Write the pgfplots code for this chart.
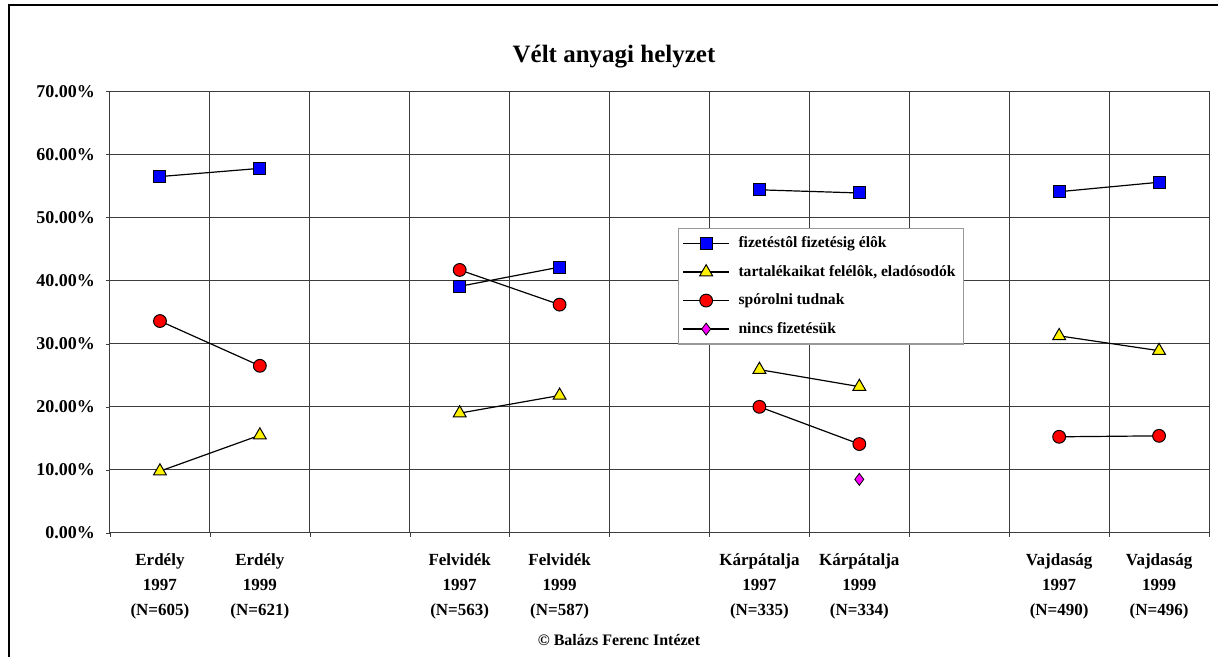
\documentclass[border=0pt]{standalone}
\usepackage{pgfplots}
\pgfplotsset{compat=1.18}
\usepackage{fontspec}
\setmainfont{Liberation Serif}
\definecolor{gridc}{RGB}{60,60,60}
\definecolor{mag}{RGB}{255,0,255}
\begin{document}
\begin{tikzpicture}[x=1pt,y=1pt]
\path[use as bounding box] (-55,-62) rectangle (554,266.5);
\draw[line width=1.1pt] (-50.5,-62) -- (-50.5,264) -- (554,264);
\begin{axis}[
  at={(0,0)}, anchor=south west,
  scale only axis, width=549.5pt, height=220.8pt,
  xmin=-0.5, xmax=10.5, ymin=0, ymax=70,
  axis line style={gridc, line width=0.5pt},
  axis x line*=bottom, axis y line*=left,
  font=\bfseries\fontsize{8.5}{12.5}\selectfont,
  /pgf/number format/assume math mode=true,
  ytick={0,10,...,70},
  yticklabel={\pgfmathprintnumber[fixed,fixed zerofill,precision=2]{\tick}\%},
  yticklabel style={font=\bfseries\fontsize{9}{11}\selectfont, xshift=-2pt},
  ymajorgrids, major grid style={gridc, line width=0.5pt},
  xtick={0,1,3,4,6,7,9,10},
  xticklabels={{Erdély\\1997\\(N=605)},{Erdély\\1999\\(N=621)},{Felvidék\\1997\\(N=563)},{Felvidék\\1999\\(N=587)},{Kárpátalja\\1997\\(N=335)},{Kárpátalja\\1999\\(N=334)},{Vajdaság\\1997\\(N=490)},{Vajdaság\\1999\\(N=496)}},
  xticklabel style={align=center, font=\bfseries\fontsize{8.5}{12.5}\selectfont, yshift=-5pt},
  minor xtick={-0.5,0.5,...,10.5},
  xminorgrids, minor grid style={gridc, line width=0.5pt},
  tick align=outside, major tick length=2pt, minor tick length=2pt,
  x tick style={draw=none}, minor x tick style={draw=gridc},
  y tick style={gridc},
  unbounded coords=jump,
  legend style={at={(0.517,0.691)}, anchor=north west, draw=gray!80, line width=0.6pt,
    font=\bfseries\fontsize{7.8}{10}\selectfont, row sep=3.3pt, inner sep=2pt,
    cells={anchor=west}},
  legend image code/.code={\draw[#1] (0cm,0cm) -- (0.8cm,0cm); \draw[mark repeat=2,mark phase=2,#1,draw=none] plot coordinates {(0cm,0cm) (0.4cm,0cm) (0.8cm,0cm)};},
  every axis plot/.append style={black, line width=0.6pt},
  clip=false,
]
\addplot[mark=square*, mark size=3pt, mark options={fill=blue, draw=black, line width=0.5pt}] coordinates {
(0,56.5) (1,57.8) (2,nan) (3,39.1) (4,42.15) (5,nan) (6,54.4) (7,53.9) (8,nan) (9,54.1) (10,55.6)};
\addlegendentry{\hspace*{2.5pt}fizetéstôl fizetésig élôk}
\addplot[mark=triangle*, mark size=3.7pt, mark options={fill=yellow, draw=black, line width=0.5pt}] coordinates {
(0,9.8) (1,15.5) (2,nan) (3,19.0) (4,21.8) (5,nan) (6,25.9) (7,23.2) (8,nan) (9,31.25) (10,28.9)};
\addlegendentry{\hspace*{2.5pt}tartalékaikat felélôk, eladósodók}
\addplot[mark=*, mark size=3.2pt, mark options={fill=red, draw=black, line width=0.5pt}] coordinates {
(0,33.6) (1,26.5) (2,nan) (3,41.7) (4,36.2) (5,nan) (6,20.0) (7,14.1) (8,nan) (9,15.25) (10,15.4)};
\addlegendentry{\hspace*{2.5pt}spórolni tudnak}
\addplot[mark=diamond*, mark size=3pt, mark options={fill=mag, draw=black, line width=0.4pt}] coordinates {
(7,8.5)};
\addlegendentry{\hspace*{2.5pt}nincs fizetésük}
\end{axis}
\node[font=\bfseries\fontsize{12.5}{14}\selectfont] at (252,238) {Vélt anyagi helyzet};
\node[font=\bfseries\fontsize{8}{10}\selectfont] at (254.5,-53.5) {© Balázs Ferenc Intézet};
\end{tikzpicture}
\end{document}
